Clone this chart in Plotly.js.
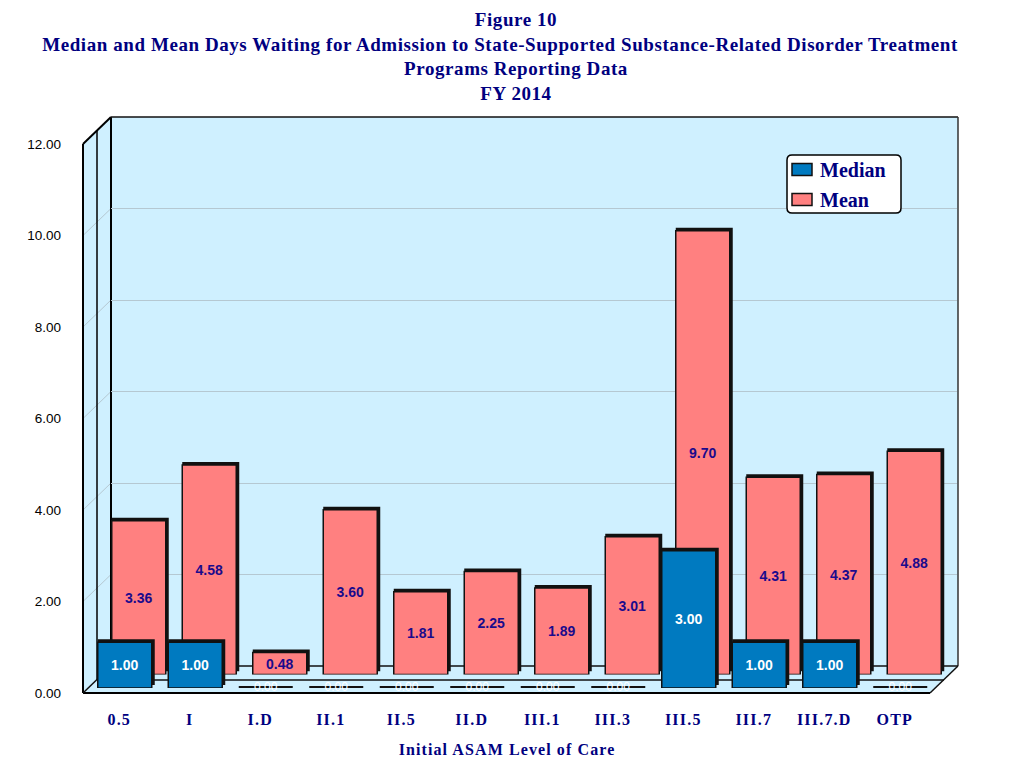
<!DOCTYPE html>
<html>
<head>
<meta charset="utf-8">
<script src="https://cdn.plot.ly/plotly-3.0.1.min.js"></script>
<style>
html,body{margin:0;padding:0;background:#fff}
.gtitle{letter-spacing:.57px}
.xtitle{letter-spacing:1.1px}
.xtick text{letter-spacing:1.2px}
.legend .legendpoints path{d:path("M12,6H-8V-6H12Z")}
</style>
</head>
<body>
<div id="chart" style="width:1024px;height:768px"></div>
<script>
const categories = ["0.5","I","I.D","II.1","II.5","II.D","III.1","III.3","III.5","III.7","III.7.D","OTP"];
const medianValues = [1.00,1.00,0.00,0.00,0.00,0.00,0.00,0.00,3.00,1.00,1.00,0.00];
const meanValues = [3.36,4.58,0.48,3.60,1.81,2.25,1.89,3.01,9.70,4.31,4.37,4.88];
const yTicks = [0,2,4,6,8,10,12];

const W = 1024, H = 768;
const NAVY = "#000080", BLUE = "#007AC0", PINK = "#FF8080", WALL = "#CFF0FF", DARK = "#111111", GRID = "#B5C8D2";
const SERIF = "Liberation Serif", SANS = "Liberation Sans";
const CAT_PX = 70.5, UNIT_PX = 45.75;
const px = x => x / W, py = y => 1 - y / H;

// one depth plane of the 3-D look: left pixel of the category band, pixel of value 0
function plane(left, zero) {
  return {
    x: {domain: [px(left), px(left + CAT_PX * categories.length)], range: [-0.5, categories.length - 0.5],
        type: "category", categoryorder: "array", categoryarray: categories,
        showgrid: false, zeroline: false, showline: false, showticklabels: false, ticks: "", fixedrange: true},
    y: {domain: [py(zero), py(zero - UNIT_PX * 12)], range: [0, 12], tickvals: yTicks,
        showgrid: false, zeroline: false, showline: false, showticklabels: false, ticks: "", fixedrange: true}
  };
}
const front = plane(84, 693), wall = plane(111, 666),
      meanShade = plane(105, 671.5), meanPlane = plane(103.5, 674.5),
      medShade = plane(91, 685), medPlane = plane(89.5, 688);

Object.assign(front.x, {showticklabels: true, ticklabelstandoff: 15,
  tickfont: {family: SERIF, size: 16, color: NAVY, weight: "bold"},
  title: {text: "Initial ASAM Level of Care", standoff: 16, font: {family: SERIF, size: 16, color: NAVY, weight: "bold"}}});
Object.assign(front.y, {showticklabels: true, tickformat: ".2f", ticklabelstandoff: 22,
  tickfont: {family: SANS, size: 13.5, color: "#000000"}});
Object.assign(wall.y, {showgrid: true, gridcolor: GRID, gridwidth: 1});

const fmt = v => v.toFixed(2);
const shadeWidth = 57 / CAT_PX;
const traces = [
  {type: "scatter", mode: "markers", x: categories, y: meanValues, xaxis: "x", yaxis: "y",
   marker: {opacity: 0}, showlegend: false, hoverinfo: "skip"},
  {type: "scatter", mode: "markers", x: categories, y: meanValues, xaxis: "x2", yaxis: "y2",
   marker: {opacity: 0}, showlegend: false, hoverinfo: "skip"},
  {type: "bar", x: categories, y: meanValues, xaxis: "x3", yaxis: "y3", width: shadeWidth,
   marker: {color: DARK, line: {width: 0}}, showlegend: false, hoverinfo: "skip", cliponaxis: false},
  {type: "bar", name: "Mean", legendrank: 2, legendgroup: "b", x: categories, y: meanValues, xaxis: "x4", yaxis: "y4",
   text: meanValues.map(fmt), textposition: "inside", insidetextanchor: "middle", constraintext: "none", textangle: 0,
   insidetextfont: {family: SANS, size: 14, color: "#1A0A8C", weight: "bold"}, cliponaxis: false,
   marker: {color: PINK, line: {color: DARK, width: 1.5}}},
  {type: "bar", x: categories, y: medianValues.map(v => v > 0 ? v : null), xaxis: "x5", yaxis: "y5", width: shadeWidth,
   marker: {color: DARK, line: {width: 0}}, showlegend: false, hoverinfo: "skip", cliponaxis: false},
  {type: "bar", name: "Median", legendrank: 1, legendgroup: "a", x: categories, y: medianValues, xaxis: "x6", yaxis: "y6",
   text: medianValues.map(v => v > 0 ? fmt(v) : ""), textposition: "inside", insidetextanchor: "middle", constraintext: "none", textangle: 0,
   insidetextfont: {family: SANS, size: 14, color: "#FFFFFF", weight: "bold"}, cliponaxis: false,
   marker: {color: BLUE, line: {color: DARK, width: medianValues.map(v => v > 0 ? 1.5 : 4)}}},
  {type: "scatter", mode: "text", x: categories.filter((c, i) => medianValues[i] === 0), y: medianValues.filter(v => v === 0),
   text: medianValues.filter(v => v === 0).map(fmt), textposition: "middle center", textfont: {family: SANS, size: 12, color: "#FFFFFF"},
   xaxis: "x6", yaxis: "y6", showlegend: false, hoverinfo: "skip", cliponaxis: false}
];

const path = pts => "M" + pts.map(p => px(p[0]) + "," + py(p[1])).join("L");
const line = (x0, y0, x1, y1, color, width, layer) => ({type: "line", xref: "paper", yref: "paper",
  x0: px(x0), y0: py(y0), x1: px(x1), y1: py(y1), line: {color, width}, layer: layer || "below"});

const shapes = [
  {type: "path", xref: "paper", yref: "paper", layer: "below", fillcolor: WALL, line: {width: 0},
   path: path([[83,144],[111,117],[958,117],[958,666],[930,693],[83,693]]) + "Z"},
  ...yTicks.slice(1, -1).map(t => line(83, 693 - t * UNIT_PX, 111, 666 - t * UNIT_PX, GRID, 1)),
  line(83,144,83,693,"#000",2), line(97,131,97,680,"#000",1.5), line(111,117,111,666,"#000",2),
  line(83,144,111,117,"#000",2), line(111,117,958,117,"#111",1.5), line(958,117,958,666,"#333",1.5),
  line(83,693,930,693,"#000",2), line(930,693,958,666,"#111",1.5),
  line(83,693,111,666,"#111",1.5), line(97,680,944,680,"#111",1.5), line(111,666,958,666,"#111",1.5),
  {type: "path", xref: "paper", yref: "paper", layer: "above", fillcolor: "#FFFFFF", line: {color: "#000", width: 1.5},
   path: (() => { const x0=787,x1=901,y0=155,y1=213,r=5;
     const X=px,Y=py;
     return `M${X(x0+r)},${Y(y0)}L${X(x1-r)},${Y(y0)}Q${X(x1)},${Y(y0)} ${X(x1)},${Y(y0+r)}L${X(x1)},${Y(y1-r)}Q${X(x1)},${Y(y1)} ${X(x1-r)},${Y(y1)}L${X(x0+r)},${Y(y1)}Q${X(x0)},${Y(y1)} ${X(x0)},${Y(y1-r)}L${X(x0)},${Y(y0+r)}Q${X(x0)},${Y(y0)} ${X(x0+r)},${Y(y0)}Z`;
   })()}
];

const layout = {
  width: W, height: H, margin: {l: 0, r: 0, t: 0, b: 0}, paper_bgcolor: "#FFFFFF", plot_bgcolor: "rgba(0,0,0,0)",
  barmode: "overlay", bargap: 1 - 54 / CAT_PX, hovermode: false,
  title: {text: "Figure 10<br>Median and Mean Days Waiting for Admission to State-Supported Substance-Related Disorder Treatment\u00A0\u00A0\u00A0\u00A0\u00A0\u00A0<br>Programs Reporting Data<br>FY 2014",
          x: 516 / W, xanchor: "center", y: 1 - 26 / H, yanchor: "top",
          font: {family: SERIF, size: 19, color: NAVY, weight: "bold"}},
  xaxis: front.x, yaxis: front.y, xaxis2: wall.x, yaxis2: wall.y,
  xaxis3: meanShade.x, yaxis3: meanShade.y, xaxis4: meanPlane.x, yaxis4: meanPlane.y,
  xaxis5: medShade.x, yaxis5: medShade.y, xaxis6: medPlane.x, yaxis6: medPlane.y,
  legend: {x: 780 / W, y: py(150), xanchor: "left", yanchor: "top", bgcolor: "rgba(0,0,0,0)", borderwidth: 0,
           font: {family: SERIF, size: 20, color: NAVY, weight: "bold"}, tracegroupgap: 1, traceorder: "grouped", itemclick: false, itemdoubleclick: false},
  shapes
};
Plotly.newPlot("chart", traces, layout, {displayModeBar: false, staticPlot: true});
</script>
</body>
</html>
